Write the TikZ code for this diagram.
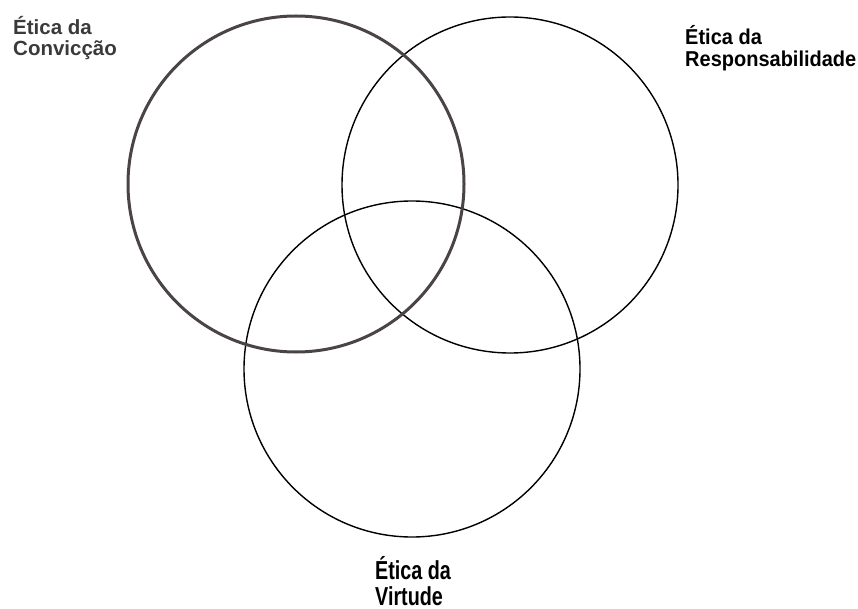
\documentclass[tikz,border=0pt]{standalone}
\usepackage{fontspec}
\setmainfont{Liberation Sans}
\definecolor{ringgray}{HTML}{4A4444}
\definecolor{labelgray}{HTML}{3A3A3A}

\begin{document}
\begin{tikzpicture}[x=1pt, y=-1pt,
  ring/.style={circle, draw=black, line width=1.4pt, minimum size=336pt, inner sep=0pt},
  ethic/.style={anchor=base west, align=left, inner sep=0pt, font=\bfseries\fontsize{20.5}{21}\selectfont}]
  \useasboundingbox (0,0) rectangle (858,609);
  % the three circles
  \node[ring] (responsabilidade) at (510,185) {};
  \node[ring] (virtude) at (412,369) {};
  \node[ring, draw=ringgray, line width=3pt] (conviccao) at (296,184) {};
  % labels (placed by the baseline of their last line)
  \node[ethic, text=labelgray] (tconviccao) at (13,56) {Ética da\\Convicção};
  \node[ethic, font=\bfseries\fontsize{21.5}{22}\selectfont\addfontfeatures{FakeStretch=0.93}] (tresponsabilidade) at (685,67) {Ética da\\Responsabilidade};
  \node[ethic, font=\bfseries\fontsize{26}{26}\selectfont\addfontfeatures{FakeStretch=0.76}] (tvirtude) at (375,605) {Ética da\\Virtude};
\end{tikzpicture}
\end{document}
